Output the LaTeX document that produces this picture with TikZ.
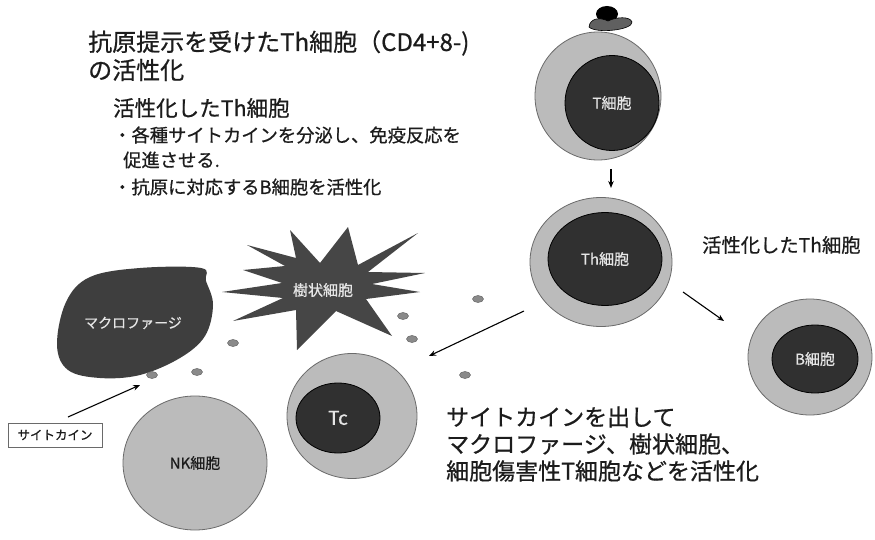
\documentclass[tikz,border=0pt]{standalone}
\usepackage{fontspec}
\setmainfont{Noto Sans CJK JP}[FakeBold=0.7]
\usetikzlibrary{arrows.meta,shapes.geometric}

\definecolor{cellgrey}{HTML}{BBBBBB}
\definecolor{edgegrey}{HTML}{6A6A6A}
\definecolor{coregrey}{HTML}{303030}
\definecolor{blobgrey}{HTML}{3E3E3E}
\definecolor{stargrey}{HTML}{464646}
\definecolor{dotgrey}{HTML}{8A8A8A}
\definecolor{ink}{HTML}{1C1C1C}
\definecolor{paleink}{HTML}{E6E6E6}

\tikzset{
  cellbody/.style={ellipse, draw=edgegrey, line width=0.8pt, fill=cellgrey, inner sep=0pt},
  core/.style={ellipse, draw=black, line width=0.8pt, fill=coregrey, inner sep=0pt,
    text=paleink, font=\fontsize{15}{15}\selectfont},
  dot/.style={ellipse, draw=edgegrey, line width=0.5pt, fill=dotgrey, inner sep=0pt,
    minimum width=11pt, minimum height=7pt},
  arr/.style={draw=black, line width=1.1pt, -{Stealth[length=7pt,width=5.5pt]}},
  heading/.style={anchor=west, text=ink, inner sep=0pt},
  onshape/.style={text=paleink, inner sep=0pt},
}

\begin{document}
\begin{tikzpicture}[x=1pt,y=-1pt]
\fill[white] (0,0) rectangle (875,540);
\useasboundingbox (0,0) rectangle (875,540);

% ---- explanatory text, upper left ----
\node[heading, font=\fontsize{24}{24}\selectfont] (title1) at (88,43) {抗原提示を受けたTh細胞（CD4+8-)};
\node[heading, font=\fontsize{24}{24}\selectfont] (title2) at (88,70) {の活性化};
\node[heading, font=\fontsize{21.5}{21.5}\selectfont] (sub) at (113,108) {活性化したTh細胞};
\node[heading, font=\fontsize{18.3}{18.3}\selectfont] (bul1) at (113,135) {・各種サイトカインを分泌し、免疫反応を};
\node[heading, font=\fontsize{18.3}{18.3}\selectfont] (bul1b) at (123,160) {促進させる.};
\node[heading, font=\fontsize{18.3}{18.3}\selectfont] (bul2) at (113,187) {・抗原に対応するB細胞を活性化};

% ---- naive T cell with presented antigen ----
\node[cellbody, minimum width=126pt, minimum height=128pt] (Tbody) at (598,96) {};
\node[core, minimum width=94pt, minimum height=95pt] (T) at (612,103) {T細胞};
\fill[black] (607,14) ellipse [x radius=11, y radius=8];
\filldraw[fill=gray!75!black, draw=black, line width=0.6pt]
  (589,27) .. controls (590,18) and (600,17) .. (608,21)
  .. controls (616,17) and (630,16) .. (632,22)
  .. controls (633,30) and (596,34) .. (589,27) -- cycle;

% ---- activated helper T cell ----
\node[cellbody, minimum width=142pt, minimum height=129pt] (Thbody) at (601,262) {};
\node[core, minimum width=114pt, minimum height=93pt] (Th) at (605,259) {Th細胞};
\node[heading, font=\fontsize{19.3}{19.3}\selectfont] (actTh) at (702,245) {活性化したTh細胞};

% ---- B cell ----
\node[cellbody, minimum width=124pt, minimum height=116pt] (Bbody) at (810,357) {};
\node[core, minimum width=86pt, minimum height=68pt] (B) at (815,359) {B細胞};

% ---- cytotoxic T cell ----
\node[cellbody, minimum width=130pt, minimum height=125pt] (Tcbody) at (352,416) {};
\node[core, minimum width=84pt, minimum height=70pt, font=\fontsize{19}{19}\selectfont] (Tc) at (338,418) {Tc};

% ---- NK cell ----
\node[cellbody, minimum width=144pt, minimum height=134pt, text=ink,
  font=\fontsize{15}{15}\selectfont] (NK) at (195,463) {NK細胞};

% ---- macrophage ----
\fill[blobgrey] plot[smooth cycle, tension=0.6] coordinates {
  (57,345) (66,302) (90,277) (140,268) (201,268) (206,281) (213,305)
  (205,336) (180,358) (140,375) (100,378) (68,370)};
\node[onshape, font=\fontsize{14}{14}\selectfont] (macro) at (133,323) {マクロファージ};

% ---- dendritic cell ----
\fill[stargrey]
  (290,230) -- (320,263) -- (348,227) -- (358,265) -- (418,233) -- (368,272)
  -- (425,273) -- (372,284) -- (420,292) -- (366,299) -- (392,336) -- (336,311)
  -- (297,350) -- (296,310) -- (233,321) -- (283,298) -- (222,292) -- (282,283)
  -- (243,270) -- (285,266) -- (247,245) -- (296,258) -- cycle;
\node[onshape, font=\fontsize{15}{15}\selectfont] (dc) at (323,290) {樹状細胞};

% ---- cytokine particles ----
\node[dot] (c1) at (233,343) {};
\node[dot] (c2) at (152,375) {};
\node[dot] (c3) at (197,372) {};
\node[dot] (c4) at (403,316) {};
\node[dot] (c5) at (412,339) {};
\node[dot] (c6) at (465,375) {};
\node[dot] (c7) at (478,299) {};

% ---- cytokine label ----
\node[draw=edgegrey, line width=0.8pt, fill=white, minimum width=94pt, minimum height=24pt,
  inner sep=0pt, text=ink, font=\fontsize{12.5}{12.5}\selectfont] (cyto) at (55,435) {サイトカイン};

% ---- lower right explanation ----
\node[heading, font=\fontsize{23}{23}\selectfont] (exp1) at (446,417) {サイトカインを出して};
\node[heading, font=\fontsize{23}{23}\selectfont] (exp2) at (446,444) {マクロファージ、樹状細胞、};
\node[heading, font=\fontsize{23}{23}\selectfont] (exp3) at (446,471) {細胞傷害性T細胞などを活性化};

% ---- arrows ----
\coordinate (aTs) at (611,169);
\coordinate (aTe) at (611,188);
\coordinate (aBs) at (683,292);
\coordinate (aBe) at (724,321);
\coordinate (aCs) at (524,311);
\coordinate (aCe) at (429,356);
\coordinate (aKs) at (68,417);
\coordinate (aKe) at (140,385);
\draw[arr] (aTs) -- (aTe);
\draw[arr] (aBs) -- (aBe);
\draw[arr] (aCs) -- (aCe);
\draw[arr] (aKs) -- (aKe);
\end{tikzpicture}
\end{document}
